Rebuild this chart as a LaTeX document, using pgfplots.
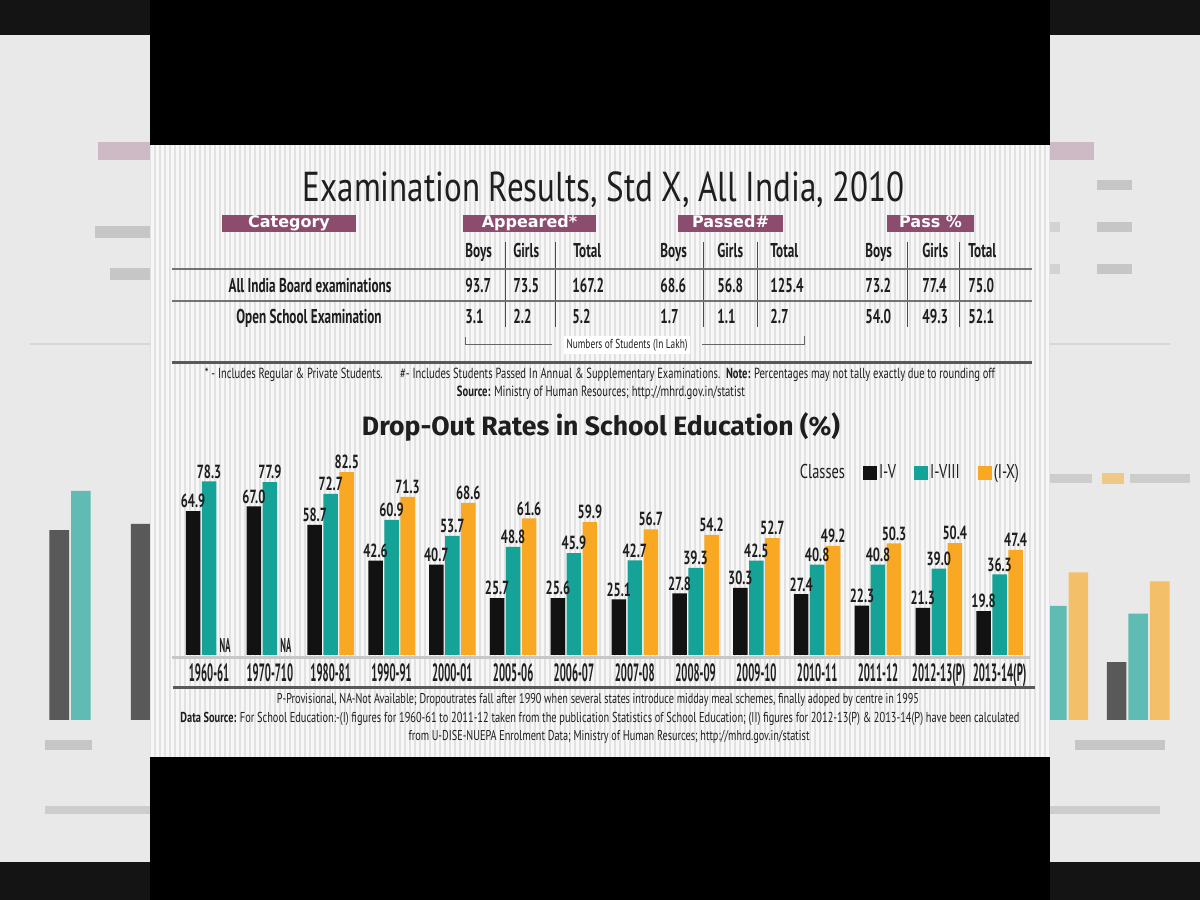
\documentclass[border=0pt]{standalone}
\usepackage{pgfplots}
\pgfplotsset{compat=1.18}
\usepackage{pgfplotstable}
\usepackage{fontspec}
\setmainfont{PT Sans}
\newfontfamily\cond[FakeStretch=0.72]{PT Sans}
\newfontfamily\condB[FakeStretch=0.66]{PT Sans}
\newfontfamily\condX[FakeStretch=0.43]{PT Sans}
\newfontfamily\titlef[FakeStretch=0.79]{PT Sans}
\newfontfamily\heavy{DejaVu Sans}
\newfontfamily\fira{Fira Sans}
\definecolor{cI}{HTML}{121212}
\definecolor{cII}{HTML}{14A396}
\definecolor{cIII}{HTML}{F8A822}
\definecolor{mauve}{HTML}{8C4C6E}
\definecolor{stripeA}{HTML}{E2E2E2}
\definecolor{stripeB}{HTML}{F7F7F7}
\definecolor{side}{HTML}{E9E9E9}
\definecolor{ink}{HTML}{1E1E1E}
\pgfplotsset{sqlegend/.style={legend image code/.code={\fill[##1] (0pt,-3.5pt) rectangle (7pt,3.5pt);}}}

\pgfplotstableread{
x a b c
0 64.9 78.3 nan
1 67.0 77.9 nan
2 58.7 72.7 82.5
3 42.6 60.9 71.3
4 40.7 53.7 68.6
5 25.7 48.8 61.6
6 25.6 45.9 59.9
7 25.1 42.7 56.7
8 27.8 39.3 54.2
9 30.3 42.5 52.7
10 27.4 40.8 49.2
11 22.3 40.8 50.3
12 21.3 39.0 50.4
13 19.8 36.3 47.4
}\dropdata

\begin{document}
\begin{tikzpicture}[x=0.5pt,y=0.5pt]
% outer background
\fill[black!92] (0,0) rectangle (1200,900);
\fill[side] (0,38) rectangle (1200,865);
% blurred enlarged copy behind (sides)
\begin{axis}[at={(-0.25pt,90pt)}, anchor=south west, scale only axis,
  width=610pt, height=124.4pt, xmin=-1, xmax=14, ymin=0, ymax=85,
  hide axis, ybar=1pt, bar width=9.8pt]
\addplot[fill=black!62!side, draw=none] table[x=x,y=a]{\dropdata};
\addplot[fill=cII!65!side, draw=none] table[x=x,y=b]{\dropdata};
\addplot[fill=cIII!65!side, draw=none] table[x=x,y=c]{\dropdata};
\end{axis}
\fill[mauve!30!side] (98,740) rectangle (150,758);
\fill[mauve!30!side] (1050,740) rectangle (1094,758);
\fill[cIII!50!side] (1102,416) rectangle (1124,427);
\fill[black!12!side] (1130,417) rectangle (1190,426);
\fill[black!12!side] (1045,417) rectangle (1092,426);
\fill[black!15!side] (95,662) rectangle (150,674);
\fill[black!15!side] (110,620) rectangle (150,632);
\fill[black!15!side] (1097,710) rectangle (1132,720);
\fill[black!15!side] (1097,668) rectangle (1132,678);
\fill[black!15!side] (1097,626) rectangle (1132,636);
\fill[black!10!side] (1050,668) rectangle (1060,678);
\fill[black!10!side] (1050,626) rectangle (1060,636);
\fill[black!15!side] (45,150) rectangle (92,160);
\fill[black!15!side] (1075,150) rectangle (1165,160);
\fill[black!12!side] (45,86) rectangle (150,94);
\fill[black!12!side] (1050,86) rectangle (1160,94);
\fill[black!8!side] (30,555) rectangle (150,557);
\fill[black!8!side] (1050,555) rectangle (1170,557);
% center black area
\fill[black] (150,0) rectangle (1050,900);
% panel
\fill[stripeA] (150,143) rectangle (1050,755);
\foreach \i in {0,...,179}{\fill[stripeB] ({151+5*\i},143) rectangle +(2.5,612);}

% ---- Title
\node[anchor=base, text=ink, inner sep=0pt] at (604,698)
  {\resizebox{301pt}{!}{\titlef\fontsize{21.4}{24}\selectfont Examination Results, Std X, All India, 2010}};

% header boxes
\fill[mauve] (222,668) rectangle (356,685);
\fill[mauve] (463,668) rectangle (596,685);
\fill[mauve] (678,668) rectangle (783,685);
\fill[mauve] (887,668) rectangle (974,685);
\begin{scope}[every node/.style={anchor=base, text=white, inner sep=0pt, font=\heavy\bfseries\fontsize{8}{9}\selectfont}]
\node at (289,672) {Category};
\node at (529.5,672) {Appeared*};
\node at (730.5,672) {Passed\#};
\node at (930.5,672) {Pass \%};
\end{scope}

% separators
\draw[ink!80, line width=0.5pt] (505,573)--(505,658) (555,573)--(555,658)
  (703,573)--(703,658) (757,573)--(757,658) (907,573)--(907,658) (959,573)--(959,658);
\draw[black!55, line width=0.6pt] (172,631)--(1032,631) (172,599)--(1032,599);

\begin{scope}[every node/.style={anchor=base west, text=ink, inner sep=0pt, font=\condB\bfseries\fontsize{10}{12}\selectfont}]
% column headers
\node at (465,642) {Boys}; \node at (513,642) {Girls}; \node at (573,642) {Total};
\node at (660,642) {Boys}; \node at (717,642) {Girls}; \node at (770,642) {Total};
\node at (865,642) {Boys}; \node at (922,642) {Girls}; \node at (968,642) {Total};
% row 1
\node at (465,607) {93.7}; \node at (513,607) {73.5}; \node at (572,607) {167.2};
\node at (660,607) {68.6}; \node at (717,607) {56.8}; \node at (770,607) {125.4};
\node at (865,607) {73.2}; \node at (922,607) {77.4}; \node at (968,607) {75.0};
% row 2
\node at (465,576) {3.1}; \node at (513,576) {2.2}; \node at (572,576) {5.2};
\node at (660,576) {1.7}; \node at (717,576) {1.1}; \node at (770,576) {2.7};
\node at (865,576) {54.0}; \node at (922,576) {49.3}; \node at (968,576) {52.1};
\end{scope}
\node[anchor=base, text=ink, inner sep=0pt, font=\condB\bfseries\fontsize{10}{12}\selectfont] at (310,607) {All India Board examinations};
\node[anchor=base, text=ink, inner sep=0pt, font=\condB\bfseries\fontsize{10}{12}\selectfont] at (309,576) {Open School Examination};

% bracket
\draw[black!60, line width=0.5pt] (465,563)--(465,555)--(552,555);
\draw[black!60, line width=0.5pt] (702,555)--(804,555)--(804,564);
\node[fill=white, inner sep=1.5pt, text=ink, font=\cond\fontsize{6.5}{7}\selectfont] at (627,555) {Numbers of Students (In Lakh)};

% thick separator
\draw[black!65, line width=1.5pt] (172,537)--(1032,537);

% top footnotes
\node[anchor=base, inner sep=0pt, text=ink] at (600,521)
  {\resizebox{395pt}{!}{\cond\fontsize{7}{8}\selectfont * - Includes Regular \& Private Students.\quad\ \#- Includes Students Passed In Annual \& Supplementary Examinations.\ \ \textbf{Note:} Percentages may not tally exactly due to rounding off}};
\node[anchor=base, inner sep=0pt, text=ink] at (601,503)
  {\resizebox{144pt}{!}{\cond\fontsize{7}{8}\selectfont \textbf{Source:} Ministry of Human Resources; http://mhrd.gov.in/statist}};

% drop-out title
\node[anchor=base, inner sep=0pt, text=ink] at (601,464)
  {\resizebox{239pt}{!}{\fira\bfseries\fontsize{11}{13}\selectfont Drop-Out Rates in School Education (\%)}};

% ---- main bar chart
\begin{axis}[at={(86pt,122.5pt)}, anchor=south west, scale only axis,
  width=429pt, height=94.25pt,
  xmin=-0.61, xmax=13.5, ymin=0, ymax=85,
  ybar=0.75pt, bar width=7.25pt,
  axis line style={draw=none},
  ytick=\empty, xtick={0,...,13},
  xticklabels={1960-61,1970-710,1980-81,1990-91,2000-01,2005-06,2006-07,2007-08,2008-09,2009-10,2010-11,2011-12,2012-13(P),2013-14(P)},
  major tick length=0pt,
  x tick label style={font=\condX\bfseries\fontsize{12.5}{13}\selectfont, text=ink, anchor=north, inner sep=0pt, yshift=-4pt},
  nodes near coords={\pgfmathprintnumber[fixed,fixed zerofill,precision=1]{\pgfplotspointmeta}},
  /pgf/number format/assume math mode=true,
  every node near coord/.append style={font=\condB\bfseries\fontsize{9.5}{9.5}\selectfont, text=ink, inner sep=1.3pt},
  legend style={at={(0.997,0.966)}, anchor=east, draw=none, fill=none,
    font=\cond\fontsize{10}{11}\selectfont, text=ink,
    /tikz/every even column/.append style={column sep=8pt},
    nodes={inner sep=1pt}},
  legend columns=-1,
  clip=false]
\draw[black!22, line width=1.3pt] ([yshift=-1.2pt]rel axis cs:0,0) -- ([yshift=-1.2pt]rel axis cs:1,0);
\addlegendimage{empty legend}\addlegendentry{Classes}
\addplot[fill=cI, draw=none, sqlegend] table[x=x,y=a]{\dropdata};
\addlegendentry{I-V}
\addplot[fill=cII, draw=none, sqlegend] table[x=x,y=b]{\dropdata};
\addlegendentry{I-VIII}
\addplot[fill=cIII, draw=none, sqlegend] table[x=x,y=c]{\dropdata};
\addlegendentry{(I-X)}
\node[anchor=south, xshift=8pt, inner sep=1pt, text=ink, font=\condX\bfseries\fontsize{10}{10}\selectfont] at (axis cs:0,0) {NA};
\node[anchor=south, xshift=8pt, inner sep=1pt, text=ink, font=\condX\bfseries\fontsize{10}{10}\selectfont] at (axis cs:1,0) {NA};
\end{axis}

% bottom separator and footnotes
\draw[black!65, line width=1.5pt] (173,212)--(1035,212);
\node[anchor=base, inner sep=0pt, text=ink] at (598,196)
  {\resizebox{321pt}{!}{\cond\fontsize{7}{8}\selectfont P-Provisional, NA-Not Available; Dropoutrates fall after 1990 when several states introduce midday meal schemes, finally adoped by centre in 1995}};
\node[anchor=base, inner sep=0pt, text=ink] at (600,177)
  {\resizebox{419.5pt}{!}{\cond\fontsize{7}{8}\selectfont \textbf{Data Source:} For School Education:-(I) figures for 1960-61 to 2011-12 taken from the publication Statistics of School Education; (II) figures for 2012-13(P) \& 2013-14(P) have been calculated}};
\node[anchor=base, inner sep=0pt, text=ink] at (609,159)
  {\resizebox{200.5pt}{!}{\cond\fontsize{7}{8}\selectfont from U-DISE-NUEPA Enrolment Data; Ministry of Human Resurces; http://mhrd.gov.in/statist}};
\end{tikzpicture}
\end{document}
